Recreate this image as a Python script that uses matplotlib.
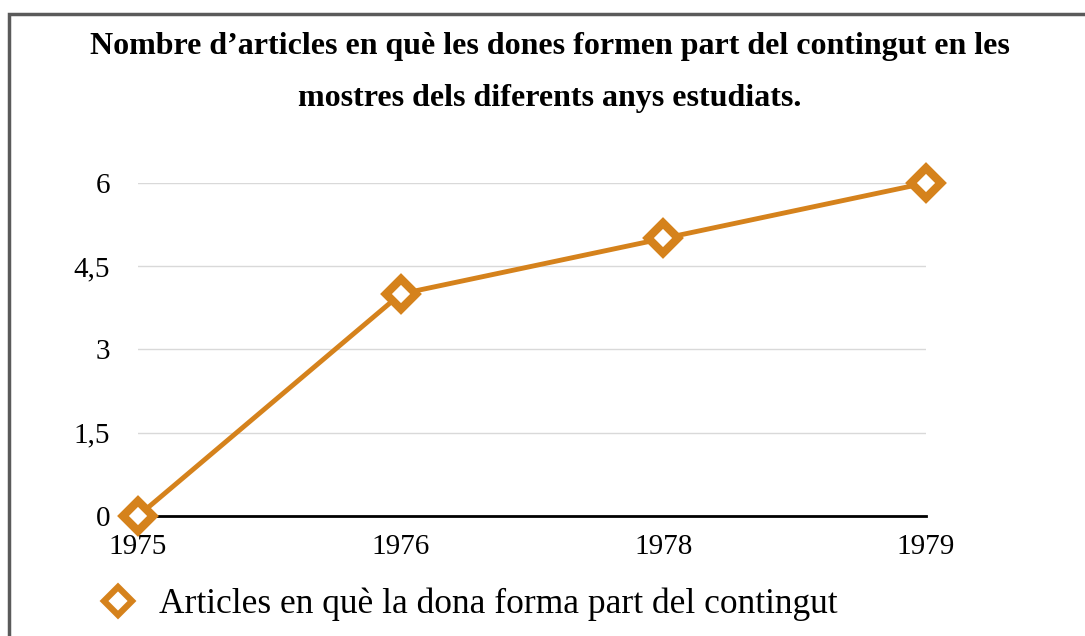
"""Nombre d'articles - line chart"""
import matplotlib
matplotlib.use('Agg')
import matplotlib.pyplot as plt
from matplotlib.patches import Rectangle

# data
years = ['1975', '1976', '1978', '1979']
articles = [0, 4, 5, 6]
yticks = [0, 1.5, 3, 4.5, 6]
ytick_labels = ['0', '1,5', '3', '4,5', '6']
title = ("Nombre d\u2019articles en què les dones formen part del contingut en les\n"
         "mostres dels diferents anys estudiats.")
series_label = 'Articles en què la dona forma part del contingut'

color = '#D5821C'
plt.rcParams['font.family'] = ['Liberation Serif', 'DejaVu Serif']

fig = plt.figure(figsize=(10.85, 6.36), dpi=100)
ax = fig.add_axes([0.1272, 0.1887, 0.8535 - 0.1272, 0.7123 - 0.1887])

x = list(range(len(years)))
ax.plot(x, articles, color=color, lw=3.5, marker='D', ms=15,
        mfc='white', mec=color, mew=6, clip_on=False, zorder=5,
        label=series_label)

ax.set_xlim(0, len(years) - 1)
ax.set_ylim(0, 6)
ax.set_xticks(x)
ax.set_xticklabels(years, fontsize=21)
ax.set_yticks(yticks)
ax.set_yticklabels(ytick_labels, fontsize=21)
ax.tick_params(length=0)
ax.tick_params(axis='y', pad=20)
ax.tick_params(axis='x', pad=13)
ax.grid(axis='y', color='#D9D9D9', lw=1)
ax.set_axisbelow(True)
for s in ['top', 'right', 'left']:
    ax.spines[s].set_visible(False)
ax.spines['bottom'].set_color('black')
ax.spines['bottom'].set_linewidth(2)
ax.spines['bottom'].set_zorder(3)

fig.text(0.507, 0.95, title, ha='center', va='top', fontsize=23,
         fontweight='bold', linespacing=2.05)

fig.legend(loc='lower left', bbox_to_anchor=(0.06, -0.027), frameon=False,
           fontsize=25.5, handlelength=1.2, handletextpad=0.55, numpoints=1)
leg = fig.legends[0]
for h in leg.legend_handles:
    h.set_linestyle('none')
    h.set_markersize(14)
    h.set_markeredgewidth(4.5)

# outer border (cut off at right and bottom in the reference)
fig.patches.append(Rectangle((9 / 1085, -0.1), 1.2, 1 - 14 / 636 + 0.1,
                             transform=fig.transFigure, fill=False,
                             edgecolor='#5A5A5A', lw=2.5))

fig.savefig('out.png', dpi=100)
